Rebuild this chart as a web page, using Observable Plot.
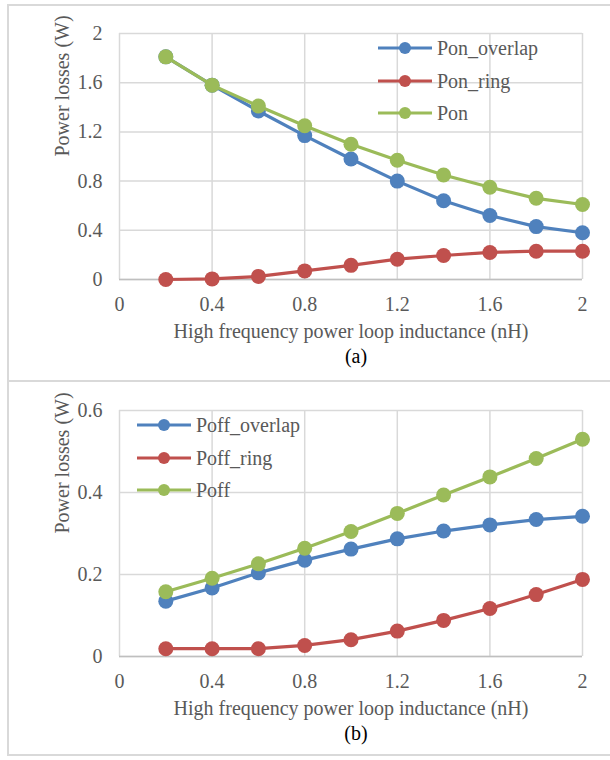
<!DOCTYPE html>
<html>
<head>
<meta charset="utf-8">
<script src="https://cdn.jsdelivr.net/npm/d3@7"></script>
<script src="https://cdn.jsdelivr.net/npm/@observablehq/plot@0.6"></script>
<style>
  html, body { margin: 0; padding: 0; background: #fff; }
  body { width: 610px; height: 760px; overflow: hidden; position: relative; font-family: "Liberation Serif", "Times New Roman", serif; }
  #frame { position: absolute; left: 7px; top: 4px; width: 700px; height: 752px; border: 2px solid #d9d9d9; box-sizing: border-box; }
  #sep { position: absolute; left: 7px; top: 380px; width: 700px; height: 0; border-top: 2px solid #d9d9d9; }
  .panel { position: absolute; left: 0; }
  .legend { position: absolute; color: #595959; font-size: 20px; }
  .legend .row { position: absolute; left: 0; display: flex; align-items: center; white-space: nowrap; height: 24px; }
  .legend svg { display: block; margin-right: 5px; }
  svg text { font-family: "Liberation Serif", "Times New Roman", serif; }
</style>
</head>
<body>
<div id="frame"></div>
<div id="sep"></div>
<div id="p1" class="panel" style="top:0px"></div>
<div id="p2" class="panel" style="top:377px"></div>
<div id="leg1" class="legend" style="left:378px; top:36px"></div>
<div id="leg2" class="legend" style="left:137px; top:413px"></div>
<script>
// ---- data ----
const inductance = [0.2, 0.4, 0.6, 0.8, 1.0, 1.2, 1.4, 1.6, 1.8, 2.0];

const seriesNamesA = ["Pon_overlap", "Pon_ring", "Pon"];
const ponOverlap = [1.81, 1.58, 1.37, 1.17, 0.98, 0.80, 0.64, 0.52, 0.43, 0.38];
const ponRing    = [0.00, 0.005, 0.025, 0.07, 0.115, 0.165, 0.195, 0.22, 0.23, 0.23];
const pon        = [1.81, 1.58, 1.41, 1.25, 1.10, 0.97, 0.85, 0.75, 0.66, 0.61];

const seriesNamesB = ["Poff_overlap", "Poff_ring", "Poff"];
const poffOverlap = [0.135, 0.167, 0.204, 0.235, 0.262, 0.287, 0.306, 0.321, 0.334, 0.342];
const poffRing    = [0.019, 0.019, 0.019, 0.027, 0.041, 0.062, 0.088, 0.117, 0.151, 0.188];
const poff        = [0.158, 0.191, 0.226, 0.264, 0.305, 0.349, 0.394, 0.438, 0.483, 0.530];

const xTicks = [0, 0.4, 0.8, 1.2, 1.6, 2];
const yTicksA = [0, 0.4, 0.8, 1.2, 1.6, 2];
const yTicksB = [0, 0.2, 0.4, 0.6];

const xTitle = "High frequency power loop inductance (nH)";
const yTitle = "Power losses (W)";
const panelLabels = ["(a)", "(b)"];

const colors = ["#4F81BD", "#C0504D", "#9BBB59"];

// ---- helpers ----
const TEXT = "#595959";
const GRID = "#d9d9d9";
const FONT = "Liberation Serif, Times New Roman, serif";
const fmt = d => String(+d.toFixed(1));

function toRows(names, arrays) {
  const rows = [];
  names.forEach((name, s) => {
    arrays[s].forEach((v, i) => rows.push({series: name, s, x: inductance[i], y: v}));
  });
  return rows;
}

function makePanel(names, arrays, yDomain, yTicks, label) {
  const rows = toRows(names, arrays);
  const marks = [
    Plot.gridX(xTicks, {stroke: GRID, strokeOpacity: 1, strokeWidth: 1.5}),
    Plot.gridY(yTicks, {stroke: GRID, strokeOpacity: 1, strokeWidth: 1.5}),
    Plot.ruleY([0], {stroke: "#bfbfbf", strokeWidth: 1.5}),
    Plot.axisX(xTicks, {tickSize: 0, tickPadding: 17, tickFormat: fmt, fontSize: 20, fontFamily: FONT, fontVariant: "normal", fill: TEXT, label: null}),
    Plot.axisY(yTicks, {tickSize: 0, tickPadding: 17, tickFormat: fmt, fontSize: 20, fontFamily: FONT, fontVariant: "normal", fill: TEXT, label: null}),
  ];
  names.forEach((name, s) => {
    const data = rows.filter(r => r.s === s);
    marks.push(Plot.line(data, {x: "x", y: "y", stroke: colors[s], strokeWidth: 3.2}));
    marks.push(Plot.dot(data, {x: "x", y: "y", r: 7.5, fill: colors[s], stroke: "none"}));
  });
  marks.push(Plot.text([xTitle], {frameAnchor: "bottom", dy: 58, fontSize: 20, fontFamily: FONT, fill: TEXT}));
  marks.push(Plot.text([label], {frameAnchor: "bottom", dy: 83, dx: 5, fontSize: 20, fontFamily: FONT, fill: "#000"}));
  marks.push(Plot.text([yTitle], {frameAnchor: "left", rotate: -90, dx: -57, fontSize: 20, fontFamily: FONT, fill: TEXT}));
  return Plot.plot({
    width: 610,
    height: 380,
    marginLeft: 119,
    marginRight: 28,
    marginTop: 33,
    marginBottom: 101,
    x: {domain: [0, 2]},
    y: {domain: yDomain},
    style: {fontFamily: FONT, background: "transparent", overflow: "visible"},
    marks
  });
}

function makeLegend(el, names, rowTops) {
  names.forEach((name, s) => {
    const row = document.createElement("div");
    row.className = "row";
    row.style.top = rowTops[s] + "px";
    row.innerHTML = `<svg width="54" height="14"><line x1="0" y1="7" x2="54" y2="7" stroke="${colors[s]}" stroke-width="3"/><circle cx="27" cy="7" r="6" fill="${colors[s]}"/></svg><span>${name}</span>`;
    el.appendChild(row);
  });
}

document.getElementById("p1").appendChild(
  makePanel(seriesNamesA, [ponOverlap, ponRing, pon], [0, 2], yTicksA, panelLabels[0]));
document.getElementById("p2").appendChild(
  makePanel(seriesNamesB, [poffOverlap, poffRing, poff], [0, 0.6], yTicksB, panelLabels[1]));

makeLegend(document.getElementById("leg1"), seriesNamesA, [0, 33, 65]);
makeLegend(document.getElementById("leg2"), seriesNamesB, [0, 33, 65]);
</script>
</body>
</html>
